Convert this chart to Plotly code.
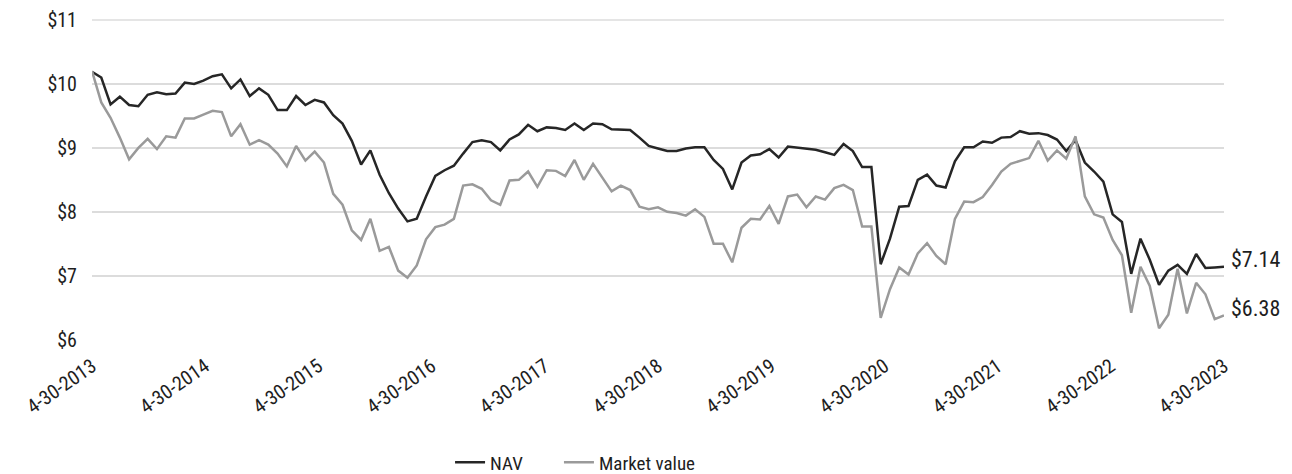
import pandas as pd
import plotly.graph_objects as go

# ---- data ----
start_date = "2013-04-30"
end_date = "2023-04-30"
n_points = 123

nav = [10.19, 10.10, 9.68, 9.80, 9.67, 9.65, 9.83, 9.87, 9.84, 9.85,
       10.02, 10.00, 10.05, 10.12, 10.15, 9.93, 10.07, 9.81, 9.93, 9.83,
       9.59, 9.59, 9.81, 9.67, 9.75, 9.71, 9.51, 9.38, 9.11, 8.74,
       8.96, 8.58, 8.29, 8.05, 7.85, 7.89, 8.24, 8.56, 8.65, 8.72,
       8.91, 9.09, 9.12, 9.09, 8.96, 9.13, 9.21, 9.36, 9.26, 9.32,
       9.31, 9.28, 9.38, 9.28, 9.38, 9.37, 9.29, 9.28, 9.28, 9.16,
       9.03, 8.99, 8.95, 8.95, 8.99, 9.01, 9.01, 8.81, 8.67, 8.35,
       8.77, 8.88, 8.90, 8.98, 8.85, 9.02, 9.00, 8.98, 8.97, 8.93,
       8.89, 9.06, 8.95, 8.70, 8.70, 7.18, 7.58, 8.08, 8.09, 8.50,
       8.58, 8.41, 8.38, 8.79, 9.01, 9.01, 9.10, 9.08, 9.16, 9.17,
       9.26, 9.22, 9.23, 9.20, 9.13, 8.95, 9.12, 8.77, 8.63, 8.47,
       7.96, 7.84, 7.03, 7.58, 7.25, 6.86, 7.08, 7.17, 7.03, 7.34,
       7.12, 7.13, 7.14]

market = [10.20, 9.71, 9.47, 9.16, 8.82, 9.00, 9.14, 8.98, 9.18, 9.16,
          9.46, 9.46, 9.52, 9.58, 9.56, 9.18, 9.37, 9.05, 9.12, 9.05,
          8.91, 8.71, 9.03, 8.80, 8.94, 8.77, 8.28, 8.11, 7.71, 7.56,
          7.89, 7.39, 7.45, 7.08, 6.97, 7.16, 7.57, 7.76, 7.80, 7.89,
          8.41, 8.43, 8.36, 8.18, 8.11, 8.49, 8.50, 8.63, 8.39, 8.65,
          8.64, 8.56, 8.81, 8.50, 8.75, 8.53, 8.32, 8.41, 8.34, 8.08,
          8.04, 8.07, 8.00, 7.98, 7.94, 8.04, 7.92, 7.50, 7.50, 7.21,
          7.75, 7.89, 7.88, 8.09, 7.81, 8.24, 8.27, 8.07, 8.24, 8.19,
          8.37, 8.42, 8.34, 7.77, 7.77, 6.34, 6.79, 7.13, 7.02, 7.35,
          7.51, 7.31, 7.18, 7.89, 8.16, 8.15, 8.23, 8.42, 8.63, 8.75,
          8.80, 8.84, 9.11, 8.80, 8.96, 8.83, 9.18, 8.24, 7.96, 7.91,
          7.56, 7.32, 6.42, 7.14, 6.84, 6.18, 6.39, 7.11, 6.41, 6.89,
          6.71, 6.32, 6.38]

tick_dates = ["2013-04-30", "2014-04-30", "2015-04-30", "2016-04-30", "2017-04-30",
              "2018-04-30", "2019-04-30", "2020-04-30", "2021-04-30", "2022-04-30",
              "2023-04-30"]
tick_labels = ["4-30-2013", "4-30-2014", "4-30-2015", "4-30-2016", "4-30-2017",
               "4-30-2018", "4-30-2019", "4-30-2020", "4-30-2021", "4-30-2022",
               "4-30-2023"]
y_ticks = [6, 7, 8, 9, 10, 11]
y_labels = ["$6", "$7", "$8", "$9", "$10", "$11"]

dates = pd.date_range(start_date, end_date, periods=n_points)

FONT = "Liberation Sans Narrow, Roboto Condensed, Arial Narrow, Roboto, sans-serif"
NAV_C = "#262626"
MKT_C = "#9a9a9a"
TXT_C = "#1e1e1e"
GRID_C = "#dcdcdc"

fig = go.Figure()
fig.add_trace(go.Scatter(x=dates, y=nav, mode="lines", name="NAV",
                         line=dict(color=NAV_C, width=2.5), legend="legend"))
fig.add_trace(go.Scatter(x=dates, y=market, mode="lines", name="Market value",
                         line=dict(color=MKT_C, width=2.5), legend="legend2"))

# top gridline (plotly omits the grid line at the very edge of the range)
fig.add_shape(type="line", xref="x domain", x0=0, x1=1, yref="y",
              y0=y_ticks[-1], y1=y_ticks[-1], layer="below",
              line=dict(color=GRID_C, width=1.5))

for vals in (nav, market):
    fig.add_annotation(x=dates[-1], y=vals[-1], text=f"${vals[-1]:.2f}",
                       showarrow=False, xanchor="left", yanchor="middle",
                       xshift=5, yshift=7,
                       font=dict(family=FONT, size=22, color=TXT_C))

leg_common = dict(orientation="h", y=-0.381, yanchor="middle", bgcolor="rgba(0,0,0,0)",
                  font=dict(family=FONT, size=19, color=TXT_C), itemwidth=30)

fig.update_layout(
    width=1292, height=474,
    margin=dict(l=92, r=68, t=19.04, b=134.2, autoexpand=False),
    paper_bgcolor="white", plot_bgcolor="white",
    font=dict(family=FONT, size=20, color=TXT_C),
    showlegend=True,
    legend=dict(x=0.3163, xanchor="left", **leg_common),
    legend2=dict(x=0.4125, xanchor="left", **leg_common),
    xaxis=dict(range=[dates[0], dates[-1]], tickvals=pd.to_datetime(tick_dates),
               ticktext=tick_labels, tickangle=-35, showgrid=False, zeroline=False,
               showline=False, ticks="", ticklabelstandoff=10,
               tickfont=dict(family=FONT, size=20, color=TXT_C)),
    yaxis=dict(range=[5.995, 11.015], tickvals=y_ticks, ticktext=y_labels, showgrid=True,
               gridcolor=GRID_C, gridwidth=1.5, zeroline=False, showline=False,
               ticks="", ticklabelstandoff=14,
               tickfont=dict(family=FONT, size=20, color=TXT_C)),
)

fig.write_html("out.html", config={"displayModeBar": False},
               post_script="document.body.style.margin='0';document.body.style.overflow='hidden';")
